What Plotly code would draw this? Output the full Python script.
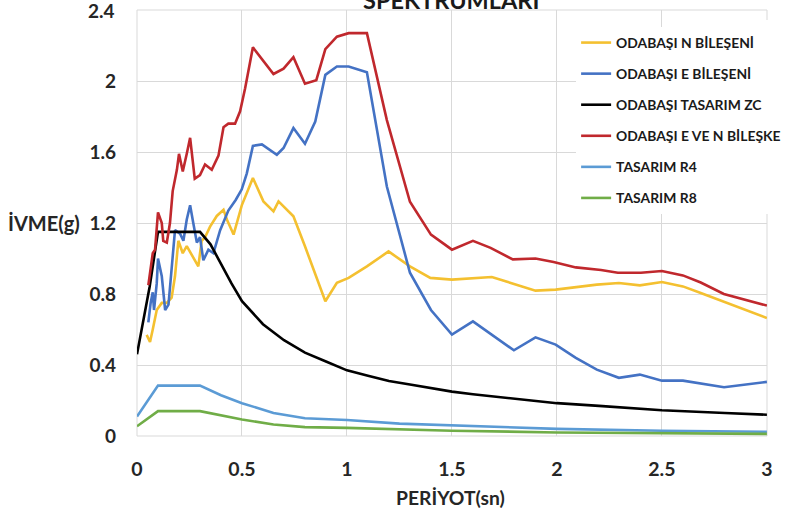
import plotly.graph_objects as go

# ---- data ----
n_T = [0.046,0.062,0.075,0.094,0.118,0.142,0.165,0.181,0.197,0.218,0.237,0.26,0.292,0.308,0.324,0.348,0.38,0.412,0.428,0.46,0.499,0.552,0.602,0.65,0.674,0.745,0.8,0.897,0.952,1.008,1.095,1.198,1.3,1.397,1.5,1.69,1.898,1.994,2.09,2.19,2.295,2.395,2.5,2.6,2.685,2.796,2.89,3.0]
n_V = [0.57,0.53,0.60,0.71,0.75,0.75,0.78,0.90,1.10,1.03,1.07,1.02,0.956,1.10,1.12,1.18,1.24,1.275,1.22,1.135,1.30,1.454,1.322,1.266,1.322,1.238,1.069,0.759,0.863,0.891,0.956,1.04,0.956,0.891,0.881,0.896,0.819,0.825,0.838,0.853,0.862,0.849,0.868,0.843,0.806,0.756,0.712,0.665]

e_T = [0.054,0.065,0.075,0.081,0.094,0.1,0.118,0.134,0.15,0.165,0.181,0.205,0.221,0.237,0.253,0.268,0.285,0.3,0.316,0.34,0.364,0.396,0.435,0.47,0.499,0.523,0.552,0.595,0.666,0.698,0.745,0.8,0.849,0.897,0.952,1.008,1.095,1.19,1.3,1.4,1.5,1.6,1.7,1.795,1.898,1.994,2.09,2.19,2.295,2.395,2.5,2.6,2.796,3.0]
e_V = [0.64,0.75,0.81,0.71,0.86,1.0,0.90,0.71,0.74,0.95,1.16,1.14,1.10,1.22,1.30,1.20,1.09,1.12,0.99,1.05,1.03,1.16,1.27,1.33,1.39,1.48,1.635,1.643,1.585,1.623,1.735,1.647,1.772,2.035,2.082,2.082,2.05,1.406,0.92,0.71,0.571,0.646,0.562,0.483,0.556,0.515,0.44,0.374,0.328,0.346,0.312,0.312,0.275,0.305]

zc_T = [0,0.06,0.1,0.3,0.35,0.4,0.45,0.5,0.6,0.7,0.8,0.9,1.0,1.1,1.2,1.3,1.4,1.5,1.6,1.8,2.0,2.2,2.5,2.8,3.0]
zc_V = [0.46,0.84,1.15,1.15,1.08,0.97,0.86,0.76,0.63,0.54,0.47,0.42,0.37,0.34,0.31,0.29,0.27,0.25,0.235,0.21,0.185,0.17,0.145,0.13,0.12]

en_T = [0.054,0.065,0.075,0.086,0.1,0.118,0.125,0.142,0.157,0.17,0.19,0.2,0.218,0.237,0.253,0.275,0.3,0.324,0.356,0.388,0.412,0.435,0.467,0.491,0.515,0.552,0.65,0.698,0.745,0.8,0.854,0.897,0.952,1.008,1.095,1.19,1.3,1.4,1.5,1.6,1.684,1.79,1.898,1.984,2.09,2.21,2.29,2.4,2.5,2.6,2.685,2.795,2.89,3.0]
en_V = [0.85,0.95,1.03,1.05,1.26,1.20,1.10,1.09,1.20,1.38,1.50,1.59,1.49,1.59,1.68,1.45,1.47,1.53,1.50,1.58,1.74,1.76,1.76,1.83,1.96,2.19,2.04,2.07,2.135,1.985,2.005,2.18,2.25,2.27,2.27,1.78,1.32,1.135,1.05,1.10,1.06,0.995,1.0,0.98,0.95,0.935,0.92,0.92,0.93,0.905,0.865,0.80,0.77,0.735]

r_T = [0,0.1,0.3,0.4,0.5,0.65,0.8,1.0,1.25,1.5,2.0,2.5,3.0]
r4_V = [0.11,0.284,0.284,0.23,0.185,0.13,0.10,0.09,0.07,0.06,0.04,0.03,0.024]
r8_V = [0.055,0.14,0.14,0.115,0.093,0.065,0.05,0.046,0.036,0.03,0.02,0.015,0.012]

names = ["ODABAŞI N BİLEŞENİ", "ODABAŞI E BİLEŞENİ", "ODABAŞI TASARIM ZC",
         "ODABAŞI E VE N BİLEŞKE", "TASARIM R4", "TASARIM R8"]
x_ticks = [0, 0.5, 1, 1.5, 2, 2.5, 3]
x_tick_text = ["0", "0.5", "1", "1.5", "2", "2.5", "3"]
y_ticks = [0, 0.4, 0.8, 1.2, 1.6, 2.0, 2.4]
y_tick_text = ["0", "0.4", "0.8", "1.2", "1.6", "2", "2.4"]

colors = ["#F4C030", "#4472C4", "#000000", "#C0282D", "#5B9BD5", "#70AD47"]
series = [(n_T, n_V), (e_T, e_V), (zc_T, zc_V), (en_T, en_V), (r_T, r4_V), (r_T, r8_V)]

FONT = "Lato"
TICKFONT = dict(family=FONT, size=19, color="#262626", weight="bold")
fig = go.Figure()
for i, ((xs, ys), nm, c) in enumerate(zip(series, names, colors)):
    fig.add_trace(go.Scatter(x=xs, y=ys, mode="lines", name=nm, legendgroup=f"g{i}",
                             line=dict(color=c, width=2.6)))

fig.update_layout(
    width=785, height=515,
    margin=dict(l=137, r=18, t=10, b=79, autoexpand=False),
    paper_bgcolor="white", plot_bgcolor="white",
    font=dict(family=FONT, color="#262626"),
    showlegend=True,
    legend=dict(x=0.697, y=0.960, xanchor="left", yanchor="top",
                bgcolor="white", borderwidth=0, tracegroupgap=10.0,
                font=dict(family=FONT, size=13.9, color="#1a1a1a", weight="bold")),
    xaxis=dict(range=[0, 3.0005], tickvals=x_ticks, ticktext=x_tick_text,
               showgrid=True, gridcolor="#d9d9d9", gridwidth=1,
               zeroline=False, showline=False, ticks="",
               ticklabelstandoff=19,
               tickfont=dict(family=FONT, size=19.5, color="#262626", weight="bold")),
    yaxis=dict(range=[0, 2.4005], tickvals=y_ticks[:-1], ticktext=y_tick_text[:-1],
               showgrid=True, gridcolor="#d9d9d9", gridwidth=1,
               zeroline=False, showline=False, ticks="",
               ticklabelstandoff=20, tickfont=TICKFONT),
)

fig.add_shape(type="rect", xref="paper", yref="paper", x0=0, x1=1, y0=0, y1=1,
              line=dict(color="#d9d9d9", width=1), layer="below")
# white legend box area covering the gridlines
fig.add_shape(type="rect", xref="paper", yref="paper", x0=0.6685, x1=1.05,
              y0=0.526, y1=0.9765, line=dict(width=0), fillcolor="white", layer="between")

# top y tick label (plotly hides it at the very edge of the figure)
fig.add_annotation(text=y_tick_text[-1], xref="paper", yref="y", x=-0.0317, y=y_ticks[-1],
                   xanchor="right", yanchor="middle", showarrow=False, font=TICKFONT)

fig.add_annotation(text="İVME(g)", xref="paper", yref="paper", x=-0.148, y=0.5,
                   xanchor="center", yanchor="middle", showarrow=False,
                   font=dict(family=FONT, size=20, color="#262626", weight="bold"))
fig.add_annotation(text="PERİYOT(sn)", xref="paper", yref="paper", x=0.498, y=-0.1455,
                   xanchor="center", yanchor="middle", showarrow=False,
                   font=dict(family=FONT, size=19.3, color="#262626", weight="bold"))
fig.add_annotation(text="SPEKTRUMLARI", xref="paper", yref="paper", x=0.498, y=0.985,
                   xanchor="center", yanchor="bottom", showarrow=False,
                   font=dict(family=FONT, size=23.5, color="#1a1a1a", weight="bold"))

fig.write_html("out.html", config={"displayModeBar": False},
               post_script="document.body.style.margin='0';")
